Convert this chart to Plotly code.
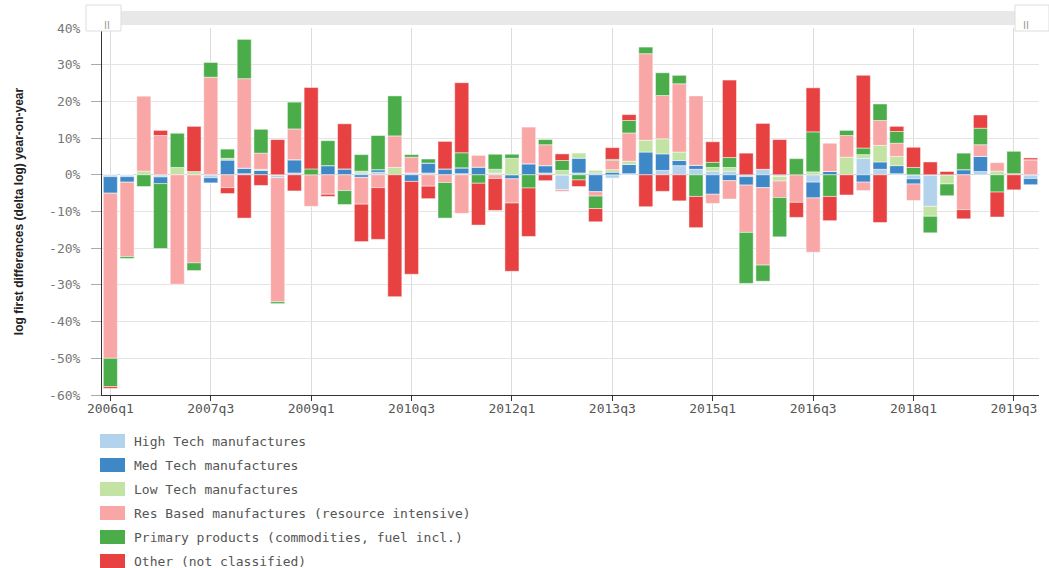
import plotly.graph_objects as go

quarters = [f"{y}q{q}" for y in range(2006, 2020) for q in range(1, 5)]

high_tech = [-0.5, -0.5, 0, -0.6, 0, 0, -0.8, 0, 0.3, 0,
             -0.8, 0.5, 0, 0, 0, 0.5, 0.7, 0, 0.5, 0.5,
             0, 0.3, 0, 0.5, 0, 0, 0.5, -4, 0.5, 0.5,
             -0.9, 0.3, 0, 1.2, 2.5, 1.5, 1, 1, -0.5, 1.5,
             -0.5, 0, -2, 0, 0, 4.5, 1.5, 0.3, -1.1, -8.6,
             0, 0, 0.9, 0, 0, -1]
med_tech = [-4.5, -1.5, 0, -1.8, 0, 0, -1.4, 4, 1.5, 1.2,
            0, 3.6, 0, 2.5, 1.6, -0.7, 0.7, 0, -1.8, 2.7,
            1.6, 1.6, 2.1, 0, -1.1, 3, 2, 0, 4, -4.6,
            0.7, 2.5, 6.2, 4.5, 1.4, 1.1, -5.3, -1.6, -2.3, -3.5,
            0, 0, -4.3, 0.9, 0, -2, 2, 2.2, -1.4, 0,
            0, 1.4, 4.1, 0, 0, -1.7]
low_tech = [0, 0, 1, 0, 2, 0.9, 0, 0.5, 0, 0.3,
            0, 0, 0, 0, 0, 0.5, 0, 2, 0, 0,
            0, 0, 0, 1, 4.5, 0, 0, 1.2, 1.5, 0.7,
            0.7, 0.9, 3.2, 4.1, 2.3, 0, 1, 1, 0, 0,
            -1.2, 0, 0.8, 0, 4.8, 1, 4.5, 2.5, 0, -2.7,
            -2.5, 0, 0, 1, 0, 0]
res_based = [-45, -20.3, 20.5, 10.7, -29.8, -24, 26.6, -3.5, 24.4, 4.4,
             -33.8, 8.4, -8.6, -5.3, -4.3, -7.3, -3.5, 8.6, 4.3, -3.1,
             -2.1, -10.5, 3.2, -1, -6.6, 10, 5.7, -0.5, 0, -1.2,
             2.5, 7.7, 23.6, 11.8, 18.6, 18.9, -2.5, -5, -12.9, -21.1,
             -4.5, -7.5, -14.8, 7.7, 5.9, -2.3, 6.8, 3.6, -4.5, 0,
             0, -9.5, 3.2, 2.3, 0.3, 4.1]
primary = [-7.7, -0.5, -3.2, -17.7, 9.4, -2.1, 4.1, 2.5, 10.7, 6.5,
           -0.5, 7.3, 1.6, 6.8, -3.8, 4.5, 9.3, 10.9, 0.7, 1.1,
           -9.7, 4.1, -2.3, 4.1, 1.1, -3.6, 1.4, 2.7, -1.4, -3.4,
           0.3, 3.4, 1.8, 6.2, 2.3, -5.9, 1.4, 2.7, -13.9, -4.4,
           -10.7, 4.4, 10.9, -5.9, 1.4, 1.8, 4.5, 3.2, 2, -4.5,
           -3.2, 4.5, 4.5, -4.7, 6.1, 0]
other = [-0.5, 0, 0, 1.4, 0, 12.3, 0, -1.6, -11.8, -2.9,
         9.6, -4.4, 22.2, -0.6, 12.3, -10.2, -14.1, -33.2, -25.3, -3.4,
         7.5, 19.1, -11.4, -8.7, -18.6, -13.2, -1.6, 1.8, -1.8, -3.6,
         3.2, 1.6, -8.7, -4.5, -7.1, -8.5, 5.6, 21.1, 5.9, 12.5,
         9.6, -4.1, 12, -6.6, -5.5, 19.8, -13, 1.4, 5.5, 3.5,
         0.9, -2.5, 3.6, -6.8, -4.1, 0.5]

series_names = [
    "High Tech manufactures",
    "Med Tech manufactures",
    "Low Tech manufactures",
    "Res Based manufactures (resource intensive)",
    "Primary products (commodities, fuel incl.)",
    "Other (not classified)",
]
series_values = [high_tech, med_tech, low_tech, res_based, primary, other]
series_colors = ["#b3d3ec", "#3f88c8", "#c2e3a3", "#f8a7a6", "#4aad4a", "#e74141"]

y_tick_values = [40, 30, 20, 10, 0, -10, -20, -30, -40, -50, -60]
y_tick_labels = ["40%", "30%", "20%", "10%", "0%", "-10%", "-20%", "-30%", "-40%", "-50%", "-60%"]

mono = "DejaVu Sans Mono"

fig = go.Figure()
for name, vals, col in zip(series_names, series_values, series_colors):
    fig.add_trace(go.Bar(
        x=quarters, y=vals, name=name,
        marker=dict(color=col, line=dict(color="rgba(255,255,255,0.8)", width=0.6)),
    ))

# plot area in pixels: x 102..1039, y 28..395
def px(xp):
    return (xp - 102) / 937
def py(yp):
    return (395 - yp) / 367

shapes = [
    dict(type="rect", xref="paper", yref="paper", x0=px(100), x1=px(1040), y0=py(25), y1=py(11),
         fillcolor="#e8e8e8", line=dict(width=0), layer="above"),
    dict(type="rect", xref="paper", yref="paper", x0=px(86), x1=px(121), y0=py(31), y1=py(5),
         fillcolor="white", line=dict(color="#dddddd", width=1), layer="above"),
    dict(type="rect", xref="paper", yref="paper", x0=px(1015), x1=px(1049), y0=py(31), y1=py(5),
         fillcolor="white", line=dict(color="#dddddd", width=1), layer="above"),
]
annotations = [
    dict(text="II", xref="paper", yref="paper", x=px(102), y=py(18), showarrow=False,
         font=dict(size=10, color="#999999", family="DejaVu Sans")),
    dict(text="II", xref="paper", yref="paper", x=px(1031), y=py(18), showarrow=False,
         font=dict(size=10, color="#999999", family="DejaVu Sans")),
]

# legend drawn below the plot: swatch + label per series
for i, (name, col) in enumerate(zip(series_names, series_colors)):
    cy = 441 + 24 * i
    shapes.append(dict(type="rect", xref="paper", yref="paper",
                       x0=px(100), x1=px(125), y0=py(cy + 7), y1=py(cy - 7),
                       fillcolor=col, line=dict(width=0)))
    annotations.append(dict(text=name, xref="paper", yref="paper",
                            x=px(132), y=py(cy), xanchor="left", yanchor="middle",
                            showarrow=False,
                            font=dict(family=mono, size=13, color="#555555")))

fig.update_layout(
    barmode="relative",
    bargap=0.16,
    width=1049, height=568,
    margin=dict(l=102, r=10, t=28, b=173),
    paper_bgcolor="white", plot_bgcolor="white",
    font=dict(family=mono, size=12, color="#555555"),
    shapes=shapes,
    annotations=annotations,
    showlegend=False,
    xaxis=dict(
        type="category", range=[-0.5, 55.5], automargin=False,
        tickmode="linear", tick0=0, dtick=6,
        showgrid=True, gridcolor="#dcdcdc", gridwidth=1,
        showline=True, linecolor="#333333", linewidth=1,
        ticks="outside", ticklen=5, tickcolor="#333333",
        ticklabelstandoff=-4,
        tickfont=dict(family=mono, size=13, color="#555555"),
    ),
    yaxis=dict(
        range=[-60, 40], automargin=False,
        tickmode="array", tickvals=y_tick_values, ticktext=y_tick_labels,
        showgrid=True, gridcolor="#e4e4e4", gridwidth=1,
        zeroline=True, zerolinecolor="#d0d0d0", zerolinewidth=1,
        showline=True, linecolor="#333333", linewidth=1,
        ticks="outside", ticklen=10, tickcolor="#aaaaaa",
        ticklabelstandoff=8,
        tickfont=dict(family=mono, size=13, color="#777777"),
        title=dict(text="<b>log first differences (delta log) year-on-year</b>",
                   font=dict(family="Liberation Sans Narrow, Liberation Sans", size=12, color="#222222"),
                   standoff=22),
    ),
)

fig.write_html("out.html", config={"displayModeBar": False},
               post_script="document.body.style.margin='0';document.body.style.overflow='hidden';")
